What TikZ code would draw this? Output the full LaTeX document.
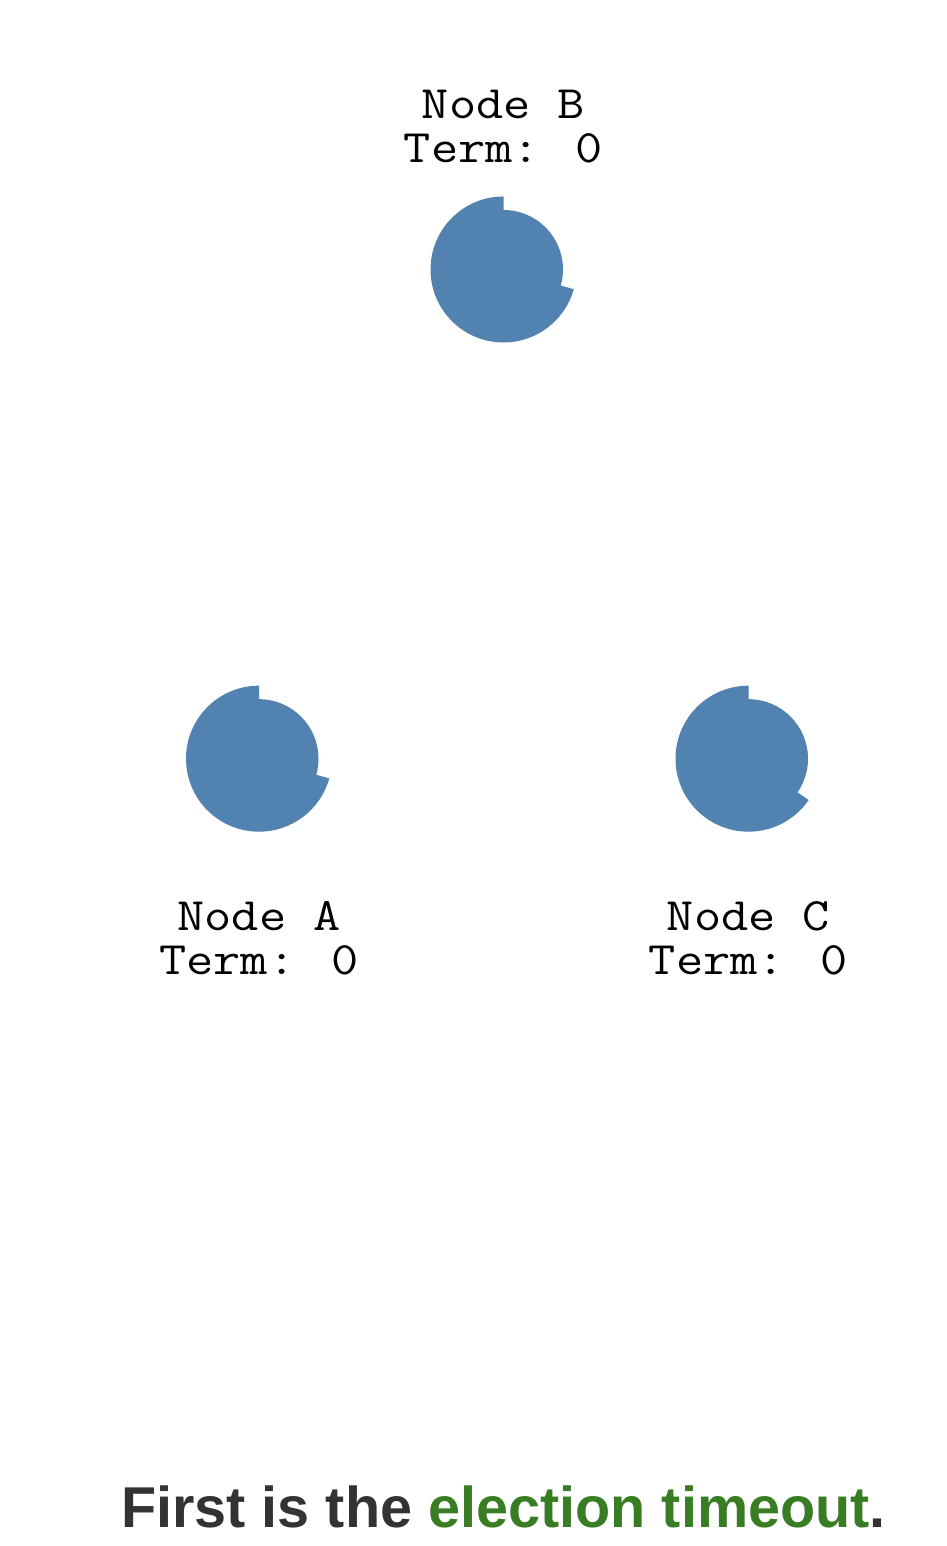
\documentclass[tikz,border=0pt]{standalone}
\usepackage{fontspec}
\setmainfont{Liberation Sans}
\definecolor{timerblue}{RGB}{82,130,176}
\definecolor{capgray}{RGB}{51,51,51}
\definecolor{capgreen}{RGB}{56,125,35}
\newcommand{\wideline}[1]{\scalebox{1.135}[1]{#1}}
\tikzset{
  server/.style={circle, inner sep=0pt, minimum size=119pt, fill=timerblue},
  timer/.style={fill=timerblue},
  srvlabel/.style={align=center, inner sep=0pt, anchor=north,
    font=\ttfamily\fontsize{46.5}{44}\selectfont},
  caption/.style={inner sep=0pt, anchor=base,
    font=\bfseries\fontsize{57.6}{60}\selectfont, text=capgray}
}
\begin{document}
\begin{tikzpicture}[x=1pt,y=1pt]
\useasboundingbox (0,0) rectangle (946,1546);
% servers
\node[server] (B) at (503.5,1276.5) {};
\node[server] (A) at (259,787.3) {};
\node[server] (C) at (748.5,787.3) {};
% election timeout rings
\fill[timer] (B.center) -- ++(90:73) arc[start angle=90, end angle=344.3, radius=73] -- cycle;
\fill[timer] (A.center) -- ++(90:73) arc[start angle=90, end angle=344.3, radius=73] -- cycle;
\fill[timer] (C.center) -- ++(90:73) arc[start angle=90, end angle=325.5, radius=73] -- cycle;
% labels
\node[srvlabel] (Blabel) at (503.5,1456) {\wideline{Node B}\\\wideline{Term: 0}};
\node[srvlabel] (Alabel) at (259,644.3) {\wideline{Node A}\\\wideline{Term: 0}};
\node[srvlabel] (Clabel) at (748.5,644.3) {\wideline{Node C}\\\wideline{Term: 0}};
% caption
\node[caption] (cap) at (503.5,18.7) {First is the \textcolor{capgreen}{election timeout}.};
\end{tikzpicture}
\end{document}
